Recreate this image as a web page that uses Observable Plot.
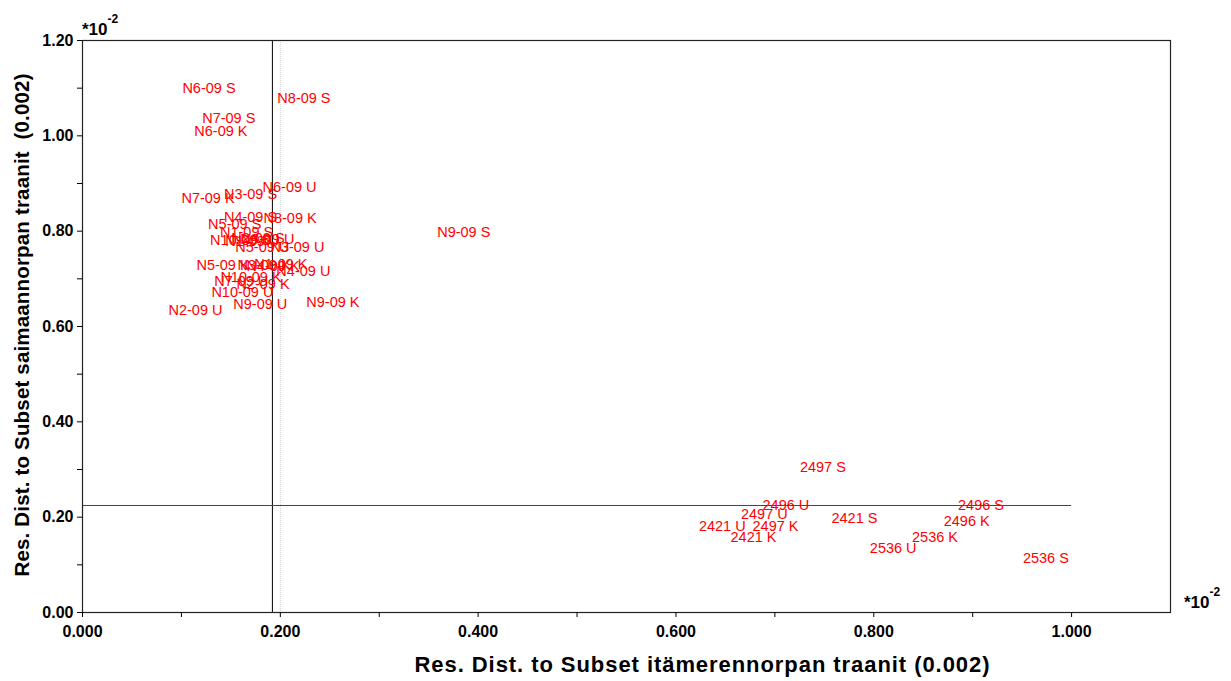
<!DOCTYPE html>
<html><head><meta charset="utf-8">
<script src="https://cdn.jsdelivr.net/npm/d3@7"></script>
<script src="https://cdn.jsdelivr.net/npm/@observablehq/plot@0.6"></script>
<style>body{margin:0;background:#fff} svg{display:block}</style>
</head><body><div id="chart"></div>
<script>
// Sample labels and residual distances (in units of 10^-2)
const labels = [
  "N6-09 S","N8-09 S","N7-09 S","N6-09 K","N6-09 U","N7-09 K","N3-09 S","N4-09 S","N8-09 K","N5-09 S",
  "N1-09 S","N10-09 S","N2-09 S","N1-09 U","N8-09 U","N5-09 U","N3-09 U","N5-09 K","N3-09 K","N4-09 K",
  "N1-09 K","N4-09 U","N10-09 K","N7-09 U","N2-09 K","N10-09 U","N9-09 U","N2-09 U","N9-09 K","N9-09 S",
  "2497 S","2496 U","2497 U","2421 U","2497 K","2421 K","2421 S","2496 S","2496 K","2536 K","2536 U","2536 S"
];
const distItameri = [
  0.101,0.197,0.121,0.113,0.182,0.100,0.143,0.143,0.183,0.127,
  0.139,0.129,0.1505,0.1444,0.1596,0.1545,0.190,0.1152,0.1566,0.1657,
  0.1737,0.196,0.1394,0.1333,0.1556,0.1303,0.1525,0.0869,0.2263,0.3586,
  0.7253,0.6875,0.6657,0.6232,0.6774,0.6552,0.7572,0.8852,0.8707,0.8387,0.796,0.9508
];
const distSaimaa = [
  1.099,1.079,1.036,1.009,0.891,0.868,0.877,0.829,0.826,0.815,
  0.798,0.780,0.785,0.778,0.782,0.766,0.766,0.728,0.728,0.726,
  0.730,0.715,0.703,0.694,0.688,0.671,0.646,0.6335,0.650,0.797,
  0.3035,0.2245,0.2056,0.1804,0.1804,0.1567,0.1978,0.2245,0.1909,0.158,0.1336,0.1126
];
const limitX = 0.192;   // critical limit, x
const limitY = 0.2245;  // critical limit, y
const gridX = 0.2;
const xTicks = [0, 0.2, 0.4, 0.6, 0.8, 1.0];
const xMinor = [0.1, 0.3, 0.5, 0.7, 0.9];
const yTicks = [0, 0.2, 0.4, 0.6, 0.8, 1.0, 1.2];
const yMinor = [0.1, 0.3, 0.5, 0.7, 0.9, 1.1];
const xTitle = "Res. Dist. to Subset itämerennorpan traanit (0.002)";
const yTitle = "Res. Dist. to Subset saimaannorpan traanit  (0.002)";

const data = labels.map((l, i) => ({label: l, x: distItameri[i], y: distSaimaa[i]}));
const font = "Arial, 'Liberation Sans', sans-serif";

const plot = Plot.plot({
  width: 1231, height: 681,
  marginLeft: 82, marginRight: 61, marginTop: 40, marginBottom: 69,
  x: {domain: [0, 1.1]},
  y: {domain: [0, 1.2]},
  style: {fontFamily: font, background: "#fff", color: "#000"},
  marks: [
    Plot.ruleX([gridX], {stroke: "#cfcfcf", strokeDasharray: "1,1"}),
    Plot.ruleX([limitX], {stroke: "#000", strokeWidth: 1}),
    Plot.ruleY([limitY], {x1: 0, x2: 1.0, stroke: "#444", strokeWidth: 1}),
    Plot.frame({stroke: "#222", strokeWidth: 1.2}),
    Plot.axisX({ticks: xTicks, tickFormat: d3.format(".3f"), tickSize: 5, tickPadding: 8, fontSize: 16, fontWeight: "bold", label: null}),
    Plot.axisX({ticks: xMinor, tickFormat: () => "", tickSize: 5, label: null}),
    Plot.axisY({ticks: yTicks, tickFormat: d3.format(".2f"), tickSize: 5, tickPadding: 4, fontSize: 16, fontWeight: "bold", label: null}),
    Plot.axisY({ticks: yMinor, tickFormat: () => "", tickSize: 5, label: null}),
    Plot.text(data, {x: "x", y: "y", text: "label", fill: "#ff0000", textAnchor: "start", fontSize: 14.5})
  ]
});
document.getElementById("chart").appendChild(plot);

const svg = d3.select(plot);
// axis titles
svg.append("text").attr("x", 702).attr("y", 672).attr("text-anchor", "middle")
  .attr("textLength", 575).attr("lengthAdjust", "spacing")
  .style("font-family", font).style("font-size", "22px").style("font-weight", "bold").text(xTitle);
svg.append("text").attr("transform", "translate(29,325) rotate(-90)").attr("text-anchor", "middle")
  .attr("textLength", 503).attr("lengthAdjust", "spacing")
  .style("font-family", font).style("font-size", "20.5px").style("font-weight", "bold").text(yTitle);
// exponent annotations
function expo(x, y) {
  const t = svg.append("text").attr("x", x).attr("y", y).attr("text-anchor", "start")
    .style("font-family", font).style("font-weight", "bold").style("font-size", "17px");
  t.append("tspan").text("*10");
  t.append("tspan").attr("dy", -12).style("font-size", "12px").text("-2");
}
expo(82, 35);
expo(1184, 608);
</script>
</body></html>
